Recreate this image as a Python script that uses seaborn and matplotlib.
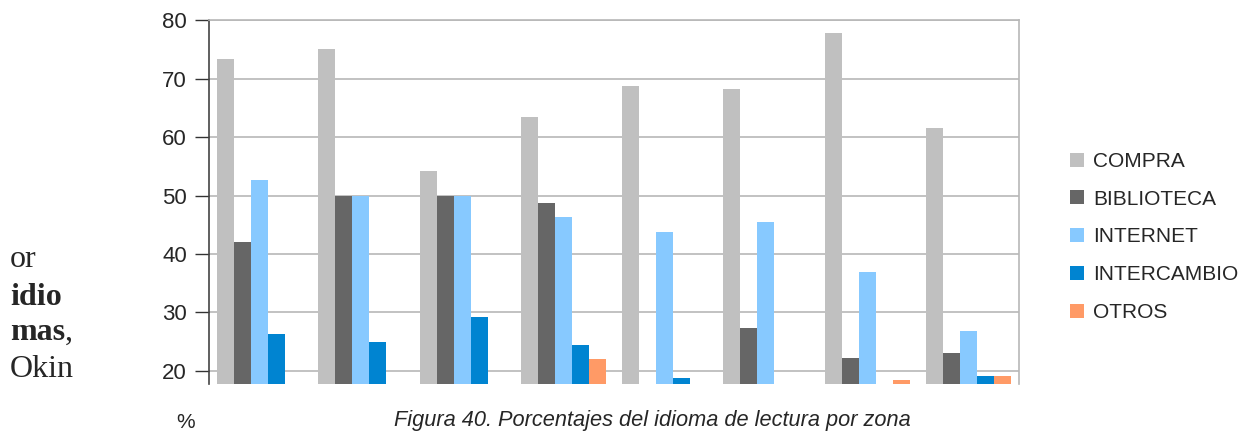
import numpy as np
import pandas as pd
import seaborn as sns
import matplotlib.pyplot as plt

## data
zonas = ['Zona 1', 'Zona 2', 'Zona 3', 'Zona 4', 'Zona 5', 'Zona 6', 'Zona 7', 'Zona 8']
series = ['COMPRA', 'BIBLIOTECA', 'INTERNET', 'INTERCAMBIO', 'OTROS']
compra = [73.4, 75.1, 54.2, 63.5, 68.8, 68.3, 77.8, 61.6]
biblioteca = [42.1, 50.0, 50.0, 48.7, np.nan, 27.4, 22.2, 23.1]
internet = [52.7, 50.0, 50.0, 46.4, 43.8, 45.5, 36.9, 26.8]
intercambio = [26.3, 25.0, 29.2, 24.5, 18.8, np.nan, np.nan, 19.1]
otros = [np.nan, np.nan, np.nan, 22.0, np.nan, np.nan, 18.5, 19.1]
colores = ['#c0c0c0', '#666666', '#87c9ff', '#0084d1', '#ff9a66']

df = pd.DataFrame({'zona': zonas, 'COMPRA': compra, 'BIBLIOTECA': biblioteca,
                   'INTERNET': internet, 'INTERCAMBIO': intercambio, 'OTROS': otros})
df = df.melt(id_vars='zona', var_name='medio', value_name='pct')

## fig
sns.set_style('white')
plt.rcParams['font.family'] = ['Liberation Sans', 'DejaVu Sans']

fig = plt.figure(figsize=(12.41, 4.32), dpi=100)
ax = fig.add_axes([209 / 1241, 1 - 383.7 / 432, 810 / 1241, 363.4 / 432])

sns.barplot(data=df, x='zona', y='pct', hue='medio', order=zonas, hue_order=series,
            palette=colores, width=0.84, errorbar=None, saturation=1, ax=ax,
            linewidth=0, zorder=3)

ax.set_ylim(17.8, 80)
ax.set_yticks(range(20, 81, 10))
ax.set_xlim(-0.5, len(zonas) - 0.5)
ax.grid(axis='y', color='#b8b8b8', linewidth=1.2, zorder=0)
ax.set_axisbelow(True)
ax.set_xticks([])
ax.set_xlabel('')
ax.set_ylabel('')
ax.tick_params(axis='y', direction='out', length=10, width=1, color='#333333',
               labelsize=16, pad=6, left=True)

for side in ['top', 'right']:
    ax.spines[side].set_color('#b8b8b8')
    ax.spines[side].set_linewidth(1.2)
ax.spines['bottom'].set_visible(False)
ax.spines['left'].set_color('#444444')
ax.spines['left'].set_linewidth(1.2)

ax.legend(loc='center left', bbox_to_anchor=(1062 / 1241, 1 - 237 / 432),
          bbox_transform=fig.transFigure, frameon=False, fontsize=15,
          handlelength=0.65, handleheight=0.65, handletextpad=0.45, labelspacing=0.9,
          borderaxespad=0)

## left margin text
serif = ['Liberation Serif', 'DejaVu Serif']
fig.text(10 / 1241, 1 - 267 / 432, 'or', family=serif, fontsize=23, va='baseline')
fig.text(10 / 1241, 1 - 305 / 432, 'idio', family=serif, fontsize=23,
         fontweight='bold', va='baseline')
t = fig.text(10 / 1241, 1 - 340 / 432, 'mas', family=serif, fontsize=23,
             fontweight='bold', va='baseline')
fig.canvas.draw()
bb = t.get_window_extent()
fig.text(bb.x1 / 1241, 1 - 340 / 432, ',', family=serif, fontsize=23, va='baseline')
fig.text(10 / 1241, 1 - 377 / 432, 'Okin', family=serif, fontsize=23, va='baseline')

## bottom texts
fig.text(186 / 1241, 1 - 413 / 432, '%', fontsize=15, ha='center', va='top')
fig.text(652 / 1241, 1 - 410 / 432, 'Figura 40. Porcentajes del idioma de lectura por zona',
         fontsize=15.7, style='italic', ha='center', va='top')

fig.savefig('out.png', dpi=100)
